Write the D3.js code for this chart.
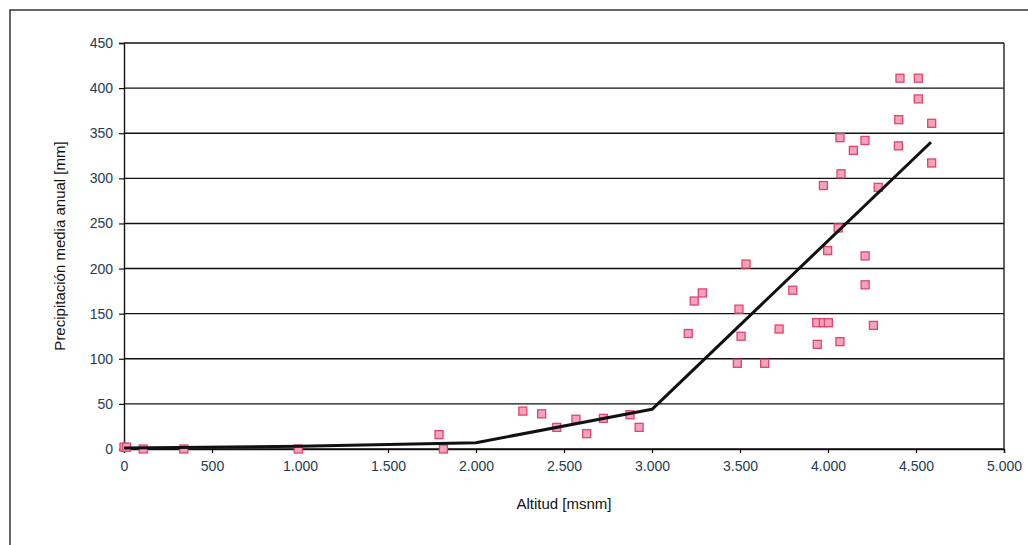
<!DOCTYPE html>
<html>
<head>
<meta charset="utf-8">
<script src="https://cdn.jsdelivr.net/npm/d3@7"></script>
<style>
  body { margin: 0; background: #fff; }
  svg { font-family: "Liberation Sans", Arial, sans-serif; }
</style>
</head>
<body>
<div id="chart-area"></div>
<script>
// estaciones: altitud [msnm] y precipitacion media anual [mm]
const altitud = [0, 15, 109, 340, 990, 1790, 1815,
  2266, 2373, 2459, 2568, 2629, 2724, 2875, 2927,
  3206, 3240, 3286, 3485, 3494, 3506, 3534, 3640, 3722, 3800,
  3936, 3939, 3974, 3974, 3998, 4002, 4058, 4068, 4068, 4074, 4144,
  4210, 4211, 4211, 4258, 4285, 4400, 4402, 4409, 4513, 4513, 4589, 4589]
const precipitacion = [2, 2, 0, 0, 0, 16, 0,
  42, 39, 24, 33, 17, 34, 38, 24,
  128, 164, 173, 95, 155, 125, 205, 95, 133, 176,
  140, 116, 140, 292, 220, 140, 245, 119, 345, 305, 331,
  342, 214, 182, 137, 290, 336, 365, 411, 411, 388, 361, 317]

// tendencia por tramos
const trendAlt = [0, 1000, 2000, 3000, 4585]
const trendPrec = [1, 3, 7, 44, 340]

const xTicks = [0, 500, 1000, 1500, 2000, 2500, 3000, 3500, 4000, 4500, 5000]
const yTicks = [0, 50, 100, 150, 200, 250, 300, 350, 400, 450]

const W = 1028, H = 545
const MARGIN = {LEFT: 124, RIGHT: 24, TOP: 43, BOTTOM: 96}
const WIDTH = W - MARGIN.LEFT - MARGIN.RIGHT
const HEIGHT = H - MARGIN.TOP - MARGIN.BOTTOM

const svg = d3.select("#chart-area").append("svg")
  .attr("width", W)
  .attr("height", H)

// marco exterior
svg.append("rect")
  .attr("x", 10).attr("y", 10)
  .attr("width", W + 20).attr("height", H + 20)
  .attr("fill", "none")
  .attr("stroke", "#333")
  .attr("stroke-width", 1.5)

const g = svg.append("g")
  .attr("transform", `translate(${MARGIN.LEFT}, ${MARGIN.TOP})`)

const x = d3.scaleLinear().domain([0, 5000]).range([0, WIDTH])
const y = d3.scaleLinear().domain([0, 450]).range([HEIGHT, 0])

const fmt = d => d3.format(",")(d).replace(/,/g, ".")

// grid
g.selectAll("line.grid").data(yTicks).enter().append("line")
  .attr("class", "grid")
  .attr("x1", 0).attr("x2", WIDTH)
  .attr("y1", d => y(d)).attr("y2", d => y(d))
  .attr("stroke", "#111")
  .attr("stroke-width", 1.4)

// borde derecho
g.append("line")
  .attr("x1", WIDTH).attr("x2", WIDTH)
  .attr("y1", 0).attr("y2", HEIGHT)
  .attr("stroke", "#222").attr("stroke-width", 1.4)

const xAxisCall = d3.axisBottom(x).tickValues(xTicks).tickFormat(fmt).tickSize(4).tickPadding(8)
const xAxisGroup = g.append("g")
  .attr("transform", `translate(0, ${HEIGHT})`)
  .call(xAxisCall)

const yAxisCall = d3.axisLeft(y).tickValues(yTicks).tickFormat(fmt).tickSize(5).tickPadding(6)
const yAxisGroup = g.append("g").call(yAxisCall)

for (const ax of [xAxisGroup, yAxisGroup]) {
  ax.select(".domain").attr("stroke", "#111").attr("stroke-width", 1.4)
  ax.selectAll(".tick line").attr("stroke", "#111").attr("stroke-width", 1.2)
  ax.selectAll(".tick text")
    .attr("fill", "#1d3b57")
    .attr("font-size", "14px")
    .attr("font-family", "Liberation Sans, Arial, sans-serif")
}

// puntos
const pts = altitud.map((a, i) => ({a, p: precipitacion[i]}))
const s = 8
g.selectAll("rect.pt").data(pts).enter().append("rect")
  .attr("class", "pt")
  .attr("x", d => x(d.a) - s / 2)
  .attr("y", d => y(d.p) - s / 2)
  .attr("width", s).attr("height", s)
  .attr("fill", "#f4a3b8")
  .attr("stroke", "#e04472")
  .attr("stroke-width", 1.3)

// linea de tendencia
const trend = trendAlt.map((a, i) => [a, trendPrec[i]])
g.append("path")
  .datum(trend)
  .attr("fill", "none")
  .attr("stroke", "#111")
  .attr("stroke-width", 3)
  .attr("stroke-linejoin", "round")
  .attr("d", d3.line().x(d => x(d[0])).y(d => y(d[1])))

// titulos
g.append("text")
  .attr("x", WIDTH / 2)
  .attr("y", HEIGHT + 60)
  .attr("text-anchor", "middle")
  .attr("font-size", "15px")
  .attr("fill", "#111")
  .text("Altitud [msnm]")

g.append("text")
  .attr("x", -(HEIGHT / 2))
  .attr("y", -59)
  .attr("text-anchor", "middle")
  .attr("transform", "rotate(-90)")
  .attr("font-size", "15px")
  .attr("fill", "#111")
  .text("Precipitación media anual [mm]")
</script>
</body>
</html>
